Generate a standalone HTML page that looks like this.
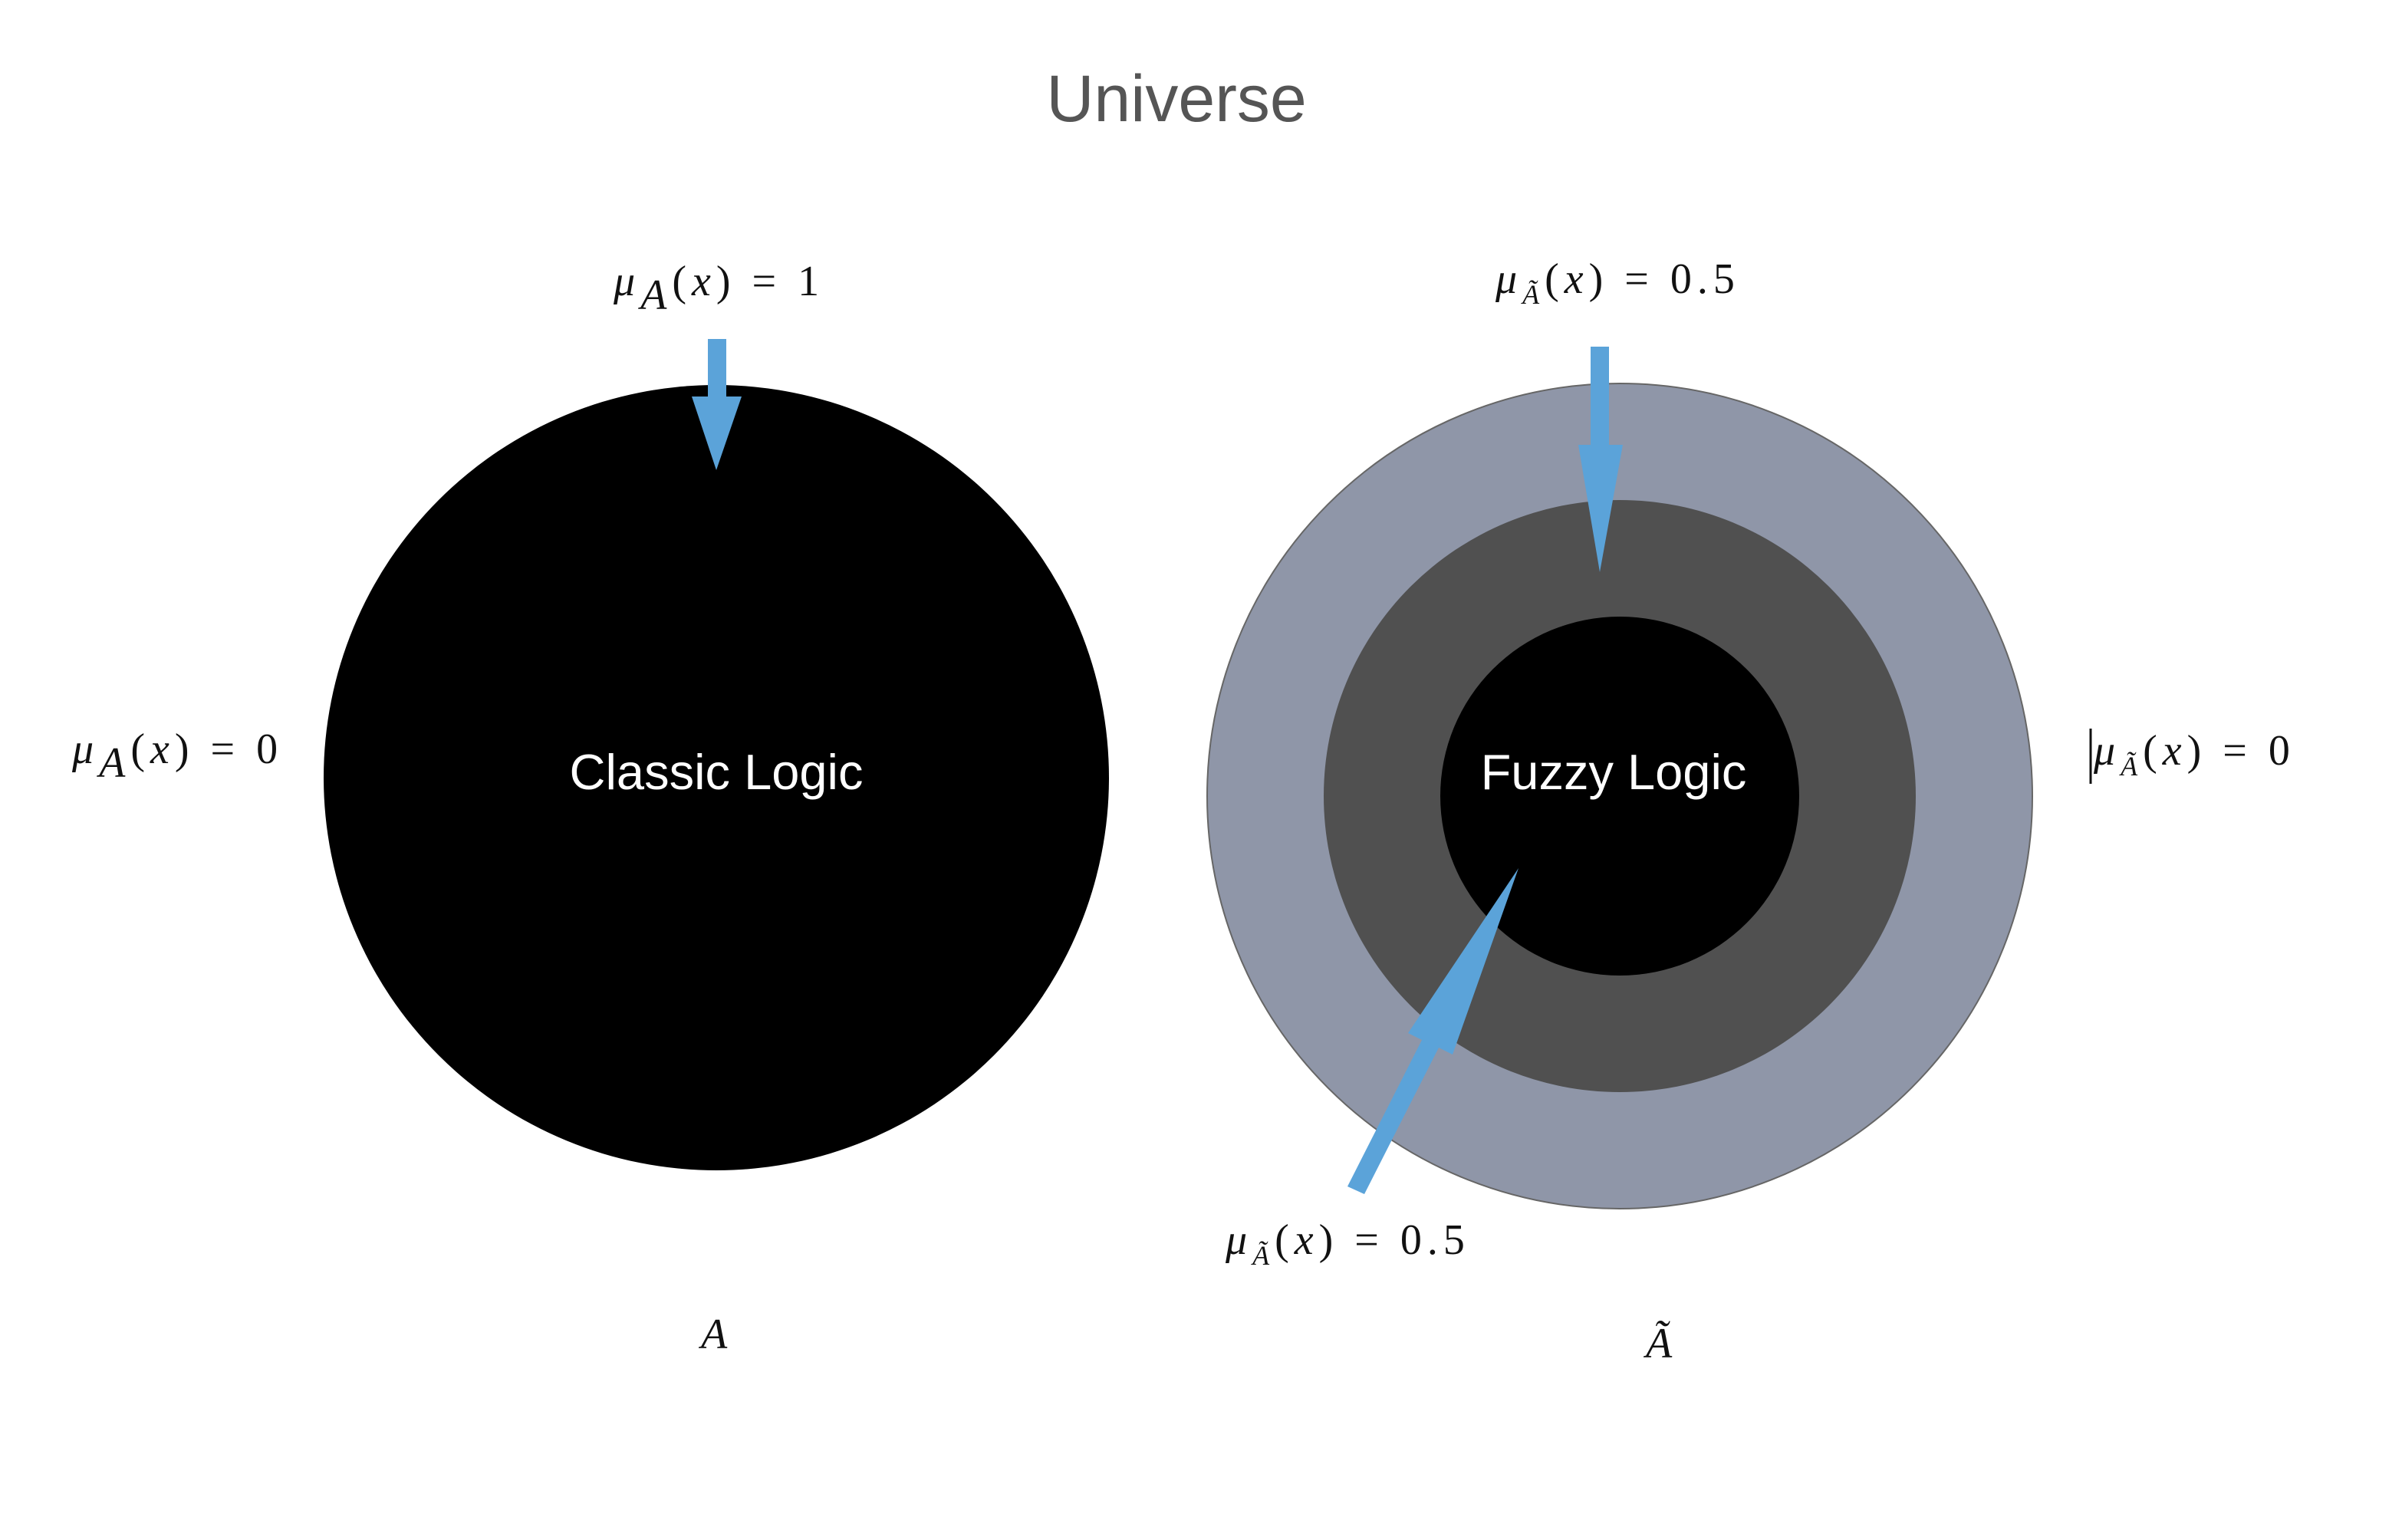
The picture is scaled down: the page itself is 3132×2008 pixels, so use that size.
<!DOCTYPE html>
<html><head><meta charset="utf-8"><style>
html,body{margin:0;padding:0;background:#fff;}
svg{display:block}
.m{font-family:"Liberation Serif",serif;fill:#111;letter-spacing:7px;}
.i{font-style:italic}
</style></head><body>
<svg width="3132" height="2008" viewBox="0 0 3132 2008" xmlns="http://www.w3.org/2000/svg">
<text x="1534" y="158" text-anchor="middle" font-family="Liberation Sans, sans-serif" font-size="86" fill="#555">Universe</text>
<circle cx="934" cy="1014" r="512" fill="#000"/>
<circle cx="2112" cy="1038" r="538" fill="#8f96a8" stroke="#666" stroke-width="2"/>
<circle cx="2112" cy="1038" r="386" fill="#505050"/>
<circle cx="2112" cy="1038" r="234" fill="#000"/>
<text x="934" y="1029" text-anchor="middle" font-family="Liberation Sans, sans-serif" font-size="65" fill="#fff">Classic Logic</text>
<text x="2104" y="1029" text-anchor="middle" font-family="Liberation Sans, sans-serif" font-size="65" fill="#fff">Fuzzy Logic</text>
<!-- arrows -->
<polygon points="923,442 947,442 947,517 967,517 934,613 902,517 923,517" fill="#5ba3d9"/>
<polygon points="2074,452 2098,452 2098,580 2116,580 2086,746 2058,580 2074,580" fill="#5ba3d9"/>
<polygon points="1757,1547 1779,1557 1876,1366 1894,1375 1980,1132 1836,1347 1854,1356" fill="#5ba3d9"/>
<!-- labels -->
<text class="m" font-size="56" y="385"><tspan x="800" class="i">μ</tspan><tspan class="i" dy="18">A</tspan><tspan dy="-18">(</tspan><tspan class="i">x</tspan><tspan>) = 1</tspan></text>
<text class="m" font-size="56" y="382"><tspan x="1950" class="i">μ</tspan><tspan class="i" font-size="36" dy="14">Ã</tspan><tspan dy="-14">(</tspan><tspan class="i">x</tspan><tspan>) = 0.5</tspan></text>
<text class="m" font-size="56" y="995"><tspan x="94" class="i">μ</tspan><tspan class="i" dy="18">A</tspan><tspan dy="-18">(</tspan><tspan class="i">x</tspan><tspan>) = 0</tspan></text>
<line x1="2726" y1="950" x2="2726" y2="1022" stroke="#111" stroke-width="3"/>
<text class="m" font-size="56" y="997"><tspan x="2730" class="i">μ</tspan><tspan class="i" font-size="36" dy="14">Ã</tspan><tspan dy="-14">(</tspan><tspan class="i">x</tspan><tspan>) = 0</tspan></text>
<text class="m" font-size="56" y="1635"><tspan x="1598" class="i">μ</tspan><tspan class="i" font-size="36" dy="14">Ã</tspan><tspan dy="-14">(</tspan><tspan class="i">x</tspan><tspan>) =  0.5</tspan></text>
<text class="m i" font-size="56" x="914" y="1758">A</text>
<text class="m i" font-size="56" x="2146" y="1770">Ã</text>
</svg>
</body></html>
